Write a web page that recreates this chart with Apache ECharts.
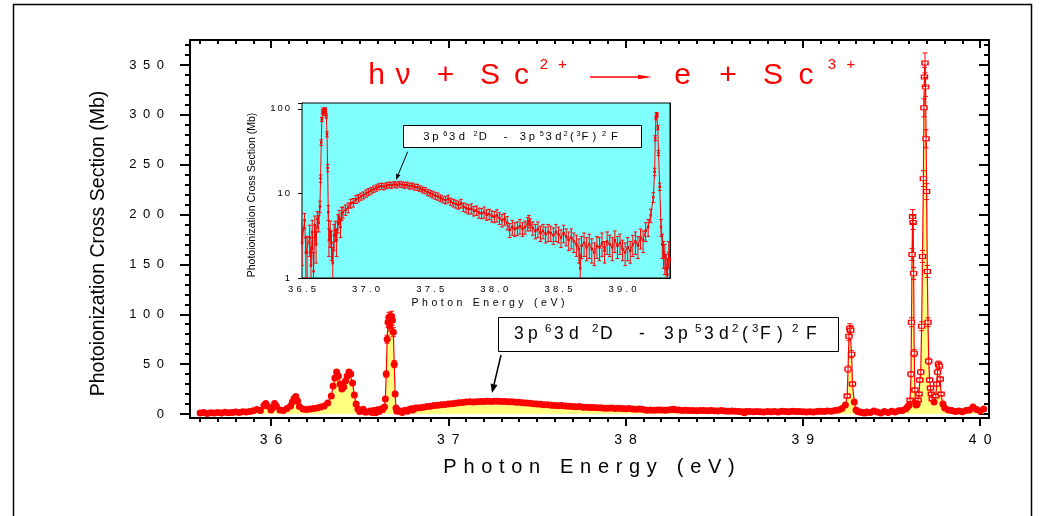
<!DOCTYPE html>
<html><head><meta charset="utf-8">
<script src="https://cdn.jsdelivr.net/npm/echarts@6/dist/echarts.min.js"></script>
<style>html,body{margin:0;padding:0;background:#fff}#c{width:1047px;height:516px}</style>
</head><body><div id="c"></div>
<script>
// ---------- data (photon energy in eV, cross section in Mb) ----------
const energy = [
35.60,35.62,35.64,35.66,35.68,35.70,35.72,35.74,35.76,35.78,
35.80,35.82,35.84,35.86,35.88,35.90,35.92,35.94,35.96,35.97,
35.98,36.00,36.01,36.02,36.03,36.05,36.07,36.09,36.11,36.12,
36.13,36.14,36.15,36.16,36.18,36.20,36.22,36.24,36.26,36.28,
36.30,36.32,36.34,36.35,36.36,36.37,36.38,36.39,36.40,36.41,
36.42,36.43,36.44,36.45,36.46,36.47,36.48,36.49,36.50,36.52,
36.53,36.54,36.56,36.57,36.58,36.59,36.60,36.61,36.62,36.63,
36.64,36.645,36.65,36.655,36.66,36.665,36.67,36.675,36.68,36.685,
36.69,36.695,36.70,36.705,36.71,36.72,36.73,36.74,36.75,36.76,
36.77,36.78,36.79,36.80,36.81,36.82,36.84,36.86,36.88,36.90,
36.92,36.94,36.96,36.98,37.00,37.02,37.04,37.06,37.08,37.10,
37.12,37.14,37.16,37.18,37.20,37.22,37.24,37.26,37.28,37.30,
37.32,37.34,37.36,37.38,37.40,37.42,37.44,37.46,37.48,37.50,
37.52,37.54,37.56,37.58,37.60,37.62,37.64,37.66,37.68,37.70,
37.72,37.74,37.76,37.78,37.80,37.82,37.84,37.86,37.88,37.90,
37.92,37.94,37.96,37.98,38.00,38.02,38.04,38.06,38.08,38.10,
38.12,38.14,38.16,38.18,38.20,38.22,38.24,38.26,38.27,38.28,
38.30,38.32,38.34,38.36,38.38,38.40,38.42,38.44,38.46,38.48,
38.50,38.52,38.54,38.56,38.58,38.60,38.62,38.64,38.66,38.67,
38.68,38.70,38.72,38.74,38.76,38.78,38.80,38.82,38.84,38.86,
38.88,38.90,38.92,38.94,38.96,38.98,39.00,39.02,39.04,39.06,
39.08,39.10,39.12,39.14,39.16,39.18,39.20,39.22,39.24,39.25,
39.255,39.26,39.265,39.27,39.275,39.28,39.29,39.30,39.31,39.32,
39.33,39.34,39.35,39.36,39.38,39.40,39.42,39.44,39.46,39.48,
39.50,39.52,39.54,39.56,39.58,39.59,39.60,39.605,39.61,39.613,
39.616,39.619,39.622,39.625,39.628,39.632,39.636,39.64,39.645,39.65,
39.655,39.66,39.665,39.67,39.675,39.68,39.683,39.686,39.689,39.692,
39.695,39.698,39.702,39.706,39.71,39.715,39.72,39.725,39.73,39.74,
39.75,39.755,39.76,39.765,39.77,39.775,39.78,39.79,39.80,39.82,
39.84,39.86,39.88,39.90,39.92,39.94,39.96,39.98,40.00,40.02
];
const sigma = [
1.0,1.5,0.6,1.3,0.9,1.6,1.1,1.8,1.2,1.6,
2.0,1.5,2.3,2.0,2.6,3.2,4.6,3.5,8.5,10.5,
8.0,4.0,6.5,10.5,8.0,4.0,3.5,5.5,8.0,12.0,
15.5,17.5,13.0,7.5,5.0,4.5,5.0,5.5,6.0,7.0,
8.0,11.0,18.0,28.0,36.0,42.0,38.0,30.0,25.0,27.0,
33.0,38.0,42.0,40.0,31.0,19.0,10.0,5.0,2.6,4.8,
2.0,2.0,3.0,1.4,3.5,1.2,4.2,2.5,5.0,4.5,
7.0,15.0,40.0,75.0,92.0,97.0,88.0,96.0,98.0,94.0,
82.0,50.0,20.0,6.0,2.8,3.5,2.6,1.5,3.2,3.7,
2.8,4.5,5.3,4.0,5.8,6.0,6.4,6.8,7.6,7.8,
8.5,8.8,9.2,9.5,10.0,10.4,10.8,11.2,11.6,12.0,
12.2,12.0,12.4,12.6,12.5,12.8,12.6,12.9,12.7,12.5,
12.6,12.2,12.3,11.9,11.8,11.4,11.0,10.8,10.3,10.0,
9.7,9.4,9.2,8.8,8.5,8.3,8.6,8.0,7.7,7.5,
7.3,7.6,6.9,6.7,6.5,6.6,6.2,6.3,5.9,5.8,
6.0,5.6,5.7,5.4,5.3,5.5,5.1,4.8,5.0,4.5,
3.7,4.0,3.8,3.9,4.1,3.8,4.0,4.4,4.7,4.3,
3.9,3.6,3.8,3.4,3.6,3.3,3.5,3.4,3.2,3.5,
3.3,3.0,3.4,3.1,2.8,3.0,2.7,2.5,2.2,1.3,
2.4,2.6,2.3,2.5,2.2,2.0,2.4,2.3,2.6,2.1,
2.7,2.5,2.3,2.8,2.4,2.6,2.2,2.0,2.3,2.1,
2.5,2.7,2.4,3.0,2.8,3.6,4.0,5.5,9.0,18.0,
45.0,78.0,86.0,84.0,60.0,30.0,12.0,4.0,2.5,2.0,
1.8,1.3,1.1,2.0,1.5,3.0,2.0,1.0,2.5,1.5,
2.8,2.0,3.2,3.5,5.0,7.0,9.0,14.0,40.0,92.0,
160.0,198.0,192.0,141.0,61.0,24.0,12.0,9.0,10.0,14.0,
20.0,34.0,42.0,88.0,158.0,236.0,307.0,338.0,352.0,328.0,
276.0,223.0,143.0,92.0,53.0,34.0,26.0,20.0,15.0,12.0,
18.0,30.0,42.0,50.0,48.0,35.0,20.0,10.0,6.0,4.0,
3.5,2.5,3.0,2.2,3.5,4.0,7.0,4.5,3.0,5.0
];
const sigmaErr = [
0.8,0.8,0.8,0.8,0.8,0.8,0.8,0.8,0.8,0.8,
0.8,0.8,0.8,0.8,0.8,0.9,0.9,0.9,1.0,1.0,
1.0,0.9,1.0,1.0,1.0,0.9,0.9,0.9,1.0,1.1,
1.2,1.3,1.1,1.0,0.9,0.9,0.9,0.9,0.9,1.0,
1.0,1.1,1.3,1.6,1.8,2.0,1.9,1.7,1.5,1.6,
1.7,1.9,2.0,1.9,1.7,1.3,1.0,0.9,1.2,1.0,
1.0,1.1,1.2,0.9,1.3,0.8,1.2,1.0,1.1,1.0,
1.1,1.5,3.0,4.0,5.0,5.0,5.0,5.0,5.0,5.0,
4.5,3.5,2.0,1.2,1.0,1.2,1.0,0.8,1.1,1.0,
1.0,1.1,1.0,1.0,1.0,0.9,0.9,0.9,0.9,0.9,
0.9,0.9,0.9,0.9,1.0,1.0,1.0,1.0,1.0,1.0,
1.0,1.0,1.0,1.0,1.0,1.0,1.0,1.0,1.0,1.0,
1.0,1.0,1.0,1.0,1.0,0.9,0.9,0.9,0.9,0.9,
0.9,0.9,0.9,0.8,0.8,0.8,0.9,0.8,0.8,0.8,
0.8,0.9,0.8,0.8,0.8,0.9,0.8,0.8,0.8,0.8,
0.9,0.8,0.8,0.8,0.8,0.9,0.8,0.8,0.8,0.8,
0.7,0.8,0.7,0.7,0.8,0.7,0.7,0.8,0.8,0.7,
0.7,0.7,0.8,0.7,0.7,0.7,0.8,0.7,0.7,0.8,
0.7,0.7,0.8,0.7,0.7,0.8,0.7,0.7,0.7,0.6,
0.7,0.8,0.7,0.8,0.7,0.6,0.7,0.7,0.8,0.6,
0.8,0.7,0.7,0.8,0.7,0.7,0.6,0.6,0.7,0.6,
0.7,0.8,0.7,0.8,0.8,0.9,0.9,1.0,1.2,1.8,
3.0,4.0,4.5,4.5,3.5,2.0,1.2,0.9,0.8,0.7,
0.7,0.6,0.6,0.7,0.6,0.8,0.7,0.6,0.7,0.6,
0.8,0.7,0.8,0.9,1.0,1.1,1.2,1.4,2.5,4.5,
6.0,7.0,7.0,6.0,3.5,2.0,1.3,1.1,1.2,1.4,
1.6,2.2,2.5,4.5,6.0,8.0,9.0,9.5,10.0,9.5,
9.0,8.0,6.0,4.5,3.0,2.2,1.9,1.6,1.4,1.3,
1.6,2.0,2.5,3.0,3.0,2.2,1.6,1.2,1.0,0.8,
0.8,0.7,0.8,0.7,0.8,0.8,1.0,0.8,0.8,0.9
];
// tick labels
const xTickValues = [36, 37, 38, 39, 40];
const yTickValues = [0, 50, 100, 150, 200, 250, 300, 350];
const insetXTicks = [36.5, 37.0, 37.5, 38.0, 38.5, 39.0];
const insetYTicks = [1, 10, 100];

// ---------- helpers ----------
const FONT = '"Liberation Sans", Arial, sans-serif';
const RED = '#ff0000';
const spaced = (s, sep) => String(s).split('').join(sep);
const minorX = [];
for (let k = 356; k <= 400; k++) if (k % 10 !== 0) minorX.push(k / 10);
const minorY = [];
for (let k = 0; k <= 37; k++) if (k % 5 !== 0) minorY.push(k * 10);

function errBars(cap, lw, isLog) {
  return function (params, api) {
    const x = api.value(0), y = api.value(1), d = api.value(2);
    let lo = y - d; const hi = y + d;
    if (isLog) lo = Math.max(lo, 0.5);
    const a = api.coord([x, hi]), b = api.coord([x, lo]);
    const st = { stroke: RED, lineWidth: lw };
    return { type: 'group', children: [
      { type: 'line', shape: { x1: a[0], y1: a[1], x2: b[0], y2: b[1] }, style: st },
      { type: 'line', shape: { x1: a[0] - cap, y1: a[1], x2: a[0] + cap, y2: a[1] }, style: st },
      { type: 'line', shape: { x1: b[0] - cap, y1: b[1], x2: b[0] + cap, y2: b[1] }, style: st }
    ]};
  };
}

function arrow(x1, y1, x2, y2, len, half, color, lw) {
  const dx = x2 - x1, dy = y2 - y1, L = Math.hypot(dx, dy);
  const ux = dx / L, uy = dy / L;
  const bx = x2 - ux * len, by = y2 - uy * len;
  return [
    { type: 'line', z: 100, shape: { x1, y1, x2: bx, y2: by }, style: { stroke: color, lineWidth: lw } },
    { type: 'polygon', z: 100, shape: { points: [[x2, y2], [bx - uy * half, by + ux * half], [bx + uy * half, by - ux * half]] }, style: { fill: color } }
  ];
}

// glyph layout of the transition label: [char, left x, superscript?]
const labelGlyphs = [['3',515,0],['p',529,0],['6',546,1],['3',555,0],['d',570,0],['2',593,1],['D',601,0],['-',640,0],
  ['3',665,0],['p',679,0],['5',696,1],['3',705,0],['d',720,0],['2',733,1],['(',743,0],['3',753,1],['F',761,0],[')',778,0],['2',793,1],['F',807,0]];
function labelTexts(ox, oy, sc) {
  return labelGlyphs.map(g => ({
    type: 'text', z: 101,
    x: ox + (g[1] - 1 - 515) * sc,
    y: oy + ((g[2] ? 329.3 : 334) - 334) * sc,
    style: { text: g[0], fontSize: (g[2] ? 11.5 : 17.5) * sc, fontFamily: FONT, fill: '#000', align: 'left', verticalAlign: 'middle' }
  }));
}

// title glyphs: [char, centre x, superscript?]
const titleGlyphs = [['h',376.5,0],['\u03bd',403,0],['+',445.5,0],['S',490,0],['c',521.5,0],['2',544,1],['+',562.5,1],
  ['e',682.5,0],['+',728,0],['S',773,0],['c',806,0],['3',832,1],['+',851,1]];
const titleTexts = titleGlyphs.map(g => ({
  type: 'text', z: 100, x: g[1], y: g[2] ? 64.5 : 75.7,
  style: { text: g[0], fontSize: g[2] ? 15 : 30, fontFamily: FONT, fill: RED, align: 'center', verticalAlign: 'middle' }
}));

const LS = '\u2004';
const xName = ['Photon', 'Energy', '(eV)'].map(w => spaced(w, LS)).join(LS + LS + LS);

const mainData = energy.map((e, i) => {
  const it = { value: [e, sigma[i]] };
  if (e > 39.2 && sigma[i] > 12) {
    it.symbol = 'rect'; it.symbolSize = [6, 4];
    it.itemStyle = { color: '#fff', borderColor: RED, borderWidth: 1.2 };
  }
  return it;
});
const errData = energy.map((e, i) => [e, sigma[i], sigmaErr[i]]);

const blackLine = (w) => ({ show: true, onZero: false, lineStyle: { color: '#000', width: w } });
const hiddenLine = { show: true, onZero: false, lineStyle: { color: 'rgba(0,0,0,0)', width: 0 } };
const noLabel = { show: false };
const noSplit = { show: false };
const YMIN = -4, YMAX = 375;

const option = {
  animation: false,
  backgroundColor: '#fff',
  textStyle: { fontFamily: FONT },
  grid: [
    { left: 190, right: 58, top: 40, bottom: 98, show: false },
    { left: 302, top: 103, width: 368, height: 175, show: true, backgroundColor: '#80ffff', borderColor: '#000', borderWidth: 1, z: 3 }
  ],
  xAxis: [
    { gridIndex: 0, type: 'value', min: 35.543, max: 40.05, position: 'bottom', axisLine: blackLine(2),
      axisTick: { show: true, customValues: xTickValues, length: 8, lineStyle: { color: '#000', width: 2 } },
      axisLabel: { customValues: xTickValues, formatter: v => spaced(v, '\u2002'), margin: 15, fontSize: 14, color: '#000', fontFamily: FONT },
      splitLine: noSplit },
    { gridIndex: 0, type: 'value', min: 35.543, max: 40.05, position: 'bottom', axisLine: hiddenLine,
      axisTick: { show: true, customValues: minorX, length: 4, lineStyle: { color: '#000', width: 2 } },
      axisLabel: { show: true, customValues: [], formatter: () => '' }, splitLine: noSplit },
    { gridIndex: 0, type: 'value', min: 35.543, max: 40.05, position: 'top', axisLine: blackLine(2),
      axisTick: { show: true, inside: true, customValues: xTickValues, length: 8, lineStyle: { color: '#000', width: 2 } }, axisLabel: noLabel, splitLine: noSplit },
    { gridIndex: 0, type: 'value', min: 35.543, max: 40.05, position: 'top', axisLine: hiddenLine,
      axisTick: { show: true, inside: true, customValues: minorX, length: 4, lineStyle: { color: '#000', width: 2 } },
      axisLabel: { show: true, customValues: [], formatter: () => '' }, splitLine: noSplit },
    { gridIndex: 1, type: 'value', min: 36.5, max: 39.37, position: 'bottom', axisLine: blackLine(1),
      axisTick: { show: true, inside: true, customValues: insetXTicks, length: 3, lineStyle: { color: '#000' } },
      axisLabel: { customValues: insetXTicks, formatter: v => spaced(v.toFixed(1), '\u2004'), margin: 6, fontSize: 9.5, color: '#000', fontFamily: FONT },
      splitLine: noSplit },
    { gridIndex: 1, type: 'value', min: 36.5, max: 39.37, position: 'top', axisLine: blackLine(1),
      axisTick: { show: true, inside: true, customValues: insetXTicks, length: 3, lineStyle: { color: '#000' } }, axisLabel: noLabel, splitLine: noSplit }
  ],
  yAxis: [
    { gridIndex: 0, type: 'value', min: YMIN, max: YMAX, position: 'left', axisLine: blackLine(2),
      axisTick: { show: true, customValues: yTickValues, length: 10, lineStyle: { color: '#000', width: 2 } },
      axisLabel: { customValues: yTickValues, formatter: v => spaced(v, '\u2002'), margin: 26, fontSize: 13, color: '#000', fontFamily: FONT },
      splitLine: noSplit },
    { gridIndex: 0, type: 'value', min: YMIN, max: YMAX, position: 'left', axisLine: hiddenLine,
      axisTick: { show: true, customValues: minorY, length: 5, lineStyle: { color: '#000', width: 2 } },
      axisLabel: { show: true, customValues: [], formatter: () => '' }, splitLine: noSplit },
    { gridIndex: 0, type: 'value', min: YMIN, max: YMAX, position: 'right', axisLine: blackLine(2),
      axisTick: { show: true, inside: true, customValues: yTickValues, length: 10, lineStyle: { color: '#000', width: 2 } }, axisLabel: noLabel, splitLine: noSplit },
    { gridIndex: 0, type: 'value', min: YMIN, max: YMAX, position: 'right', axisLine: hiddenLine,
      axisTick: { show: true, inside: true, customValues: minorY, length: 5, lineStyle: { color: '#000', width: 2 } },
      axisLabel: { show: true, customValues: [], formatter: () => '' }, splitLine: noSplit },
    { gridIndex: 1, type: 'log', logBase: 10, min: 1, max: 117, position: 'left', axisLine: blackLine(1),
      axisTick: { show: true, length: 4, lineStyle: { color: '#000' } },
      axisLabel: { formatter: v => (insetYTicks.indexOf(Math.round(v * 1000) / 1000) >= 0 ? spaced(Math.round(v), '\u2009') : ''), margin: 12, fontSize: 9.5, color: '#000', fontFamily: FONT },
      splitLine: noSplit, minorTick: { show: false } },
    { gridIndex: 1, type: 'log', logBase: 10, min: 1, max: 117, position: 'right', axisLine: blackLine(1),
      axisTick: { show: true, inside: true, length: 4, lineStyle: { color: '#000' } }, axisLabel: noLabel, splitLine: noSplit }
  ],
  series: [
    { type: 'line', xAxisIndex: 0, yAxisIndex: 0, data: mainData, symbol: 'circle', symbolSize: 7, showSymbol: true,
      itemStyle: { color: RED }, lineStyle: { color: RED, width: 1.2 }, areaStyle: { color: '#ffff80', opacity: 1, origin: 0 }, z: 2 },
    { type: 'custom', xAxisIndex: 0, yAxisIndex: 0, data: errData, renderItem: errBars(2.5, 1, false), encode: { x: 0, y: 1 }, clip: true, z: 3 },
    { type: 'line', xAxisIndex: 4, yAxisIndex: 4, data: energy.map((e, i) => [e, sigma[i]]), symbol: 'rect', symbolSize: 2.5, showSymbol: true,
      itemStyle: { color: RED }, lineStyle: { color: RED, width: 1 }, clip: true, z: 5 },
    { type: 'custom', xAxisIndex: 4, yAxisIndex: 4, data: errData, renderItem: errBars(1.8, 1, true), encode: { x: 0, y: 1 }, clip: true, z: 5 }
  ],
  graphic: [
    { type: 'rect', z: 0, shape: { x: 13.5, y: 4.5, width: 1018, height: 600 }, style: { fill: 'none', stroke: '#000', lineWidth: 1.5 } },
    ...titleTexts,
    ...arrow(590, 77, 652, 77, 14, 2.2, RED, 1.4),
    { type: 'text', z: 100, x: 589, y: 467, style: { text: xName, fontSize: 20, fontFamily: FONT, fill: '#000', align: 'center', verticalAlign: 'middle' } },
    { type: 'text', z: 100, x: 99, y: 243.5, rotation: Math.PI / 2, style: { text: 'Photoionization Cross Section (Mb)', fontSize: 19.5, fontFamily: FONT, fill: '#000', align: 'center', verticalAlign: 'middle' } },
    { type: 'text', z: 100, x: 488, y: 303.5, style: { text: xName, fontSize: 10.5, fontFamily: FONT, fill: '#000', align: 'center', verticalAlign: 'middle' } },
    { type: 'text', z: 100, x: 252.3, y: 195, rotation: Math.PI / 2, style: { text: 'Photoionization Cross Section (Mb)', fontSize: 10.5, fontFamily: FONT, fill: '#000', align: 'center', verticalAlign: 'middle' } },
    { type: 'rect', z: 100, shape: { x: 498.5, y: 317.5, width: 340, height: 34 }, style: { fill: '#fff', stroke: '#000', lineWidth: 1 } },
    ...labelTexts(515, 334, 1),
    ...arrow(501, 355, 492, 393, 9, 3.5, '#000', 1.5),
    { type: 'rect', z: 100, shape: { x: 403.5, y: 125.5, width: 238, height: 22 }, style: { fill: '#fff', stroke: '#000', lineWidth: 1 } },
    ...labelTexts(424, 137, 0.643),
    ...arrow(407.7, 151.7, 396, 180, 6, 2.3, '#000', 1)
  ]
};
const chart = echarts.init(document.getElementById('c'), null, { renderer: 'canvas' });
chart.setOption(option);
</script>
</body></html>
